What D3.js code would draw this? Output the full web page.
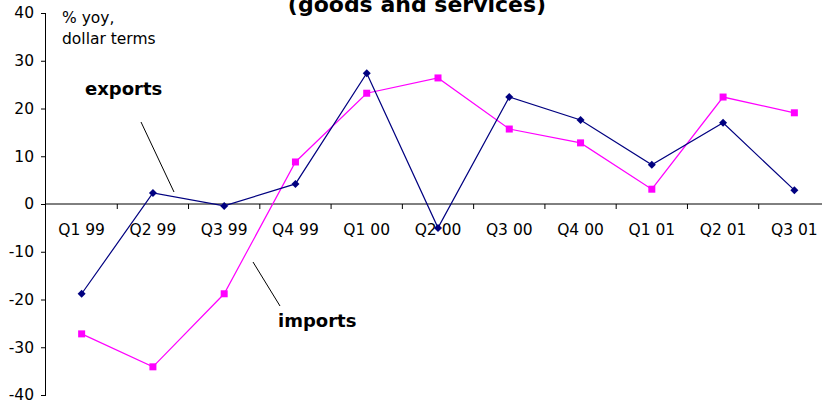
<!DOCTYPE html>
<html><head><meta charset="utf-8">
<script src="https://cdn.jsdelivr.net/npm/d3@7"></script>
<style>body{margin:0;background:#fff}svg{display:block}text{font-family:"DejaVu Sans",Verdana,sans-serif}</style>
</head><body>
<script>
const categories = ["Q1 99","Q2 99","Q3 99","Q4 99","Q1 00","Q2 00","Q3 00","Q4 00","Q1 01","Q2 01","Q3 01"];
const exportsData = [-18.8, 2.3, -0.4, 4.2, 27.4, -5.0, 22.4, 17.6, 8.2, 17.0, 2.9];
const importsData = [-27.2, -34.1, -18.8, 8.8, 23.2, 26.4, 15.7, 12.8, 3.1, 22.4, 19.1];
const yTicks = [40, 30, 20, 10, 0, -10, -20, -30, -40];

const W = 822, H = 403;
const svg = d3.select("body").append("svg").attr("width", W).attr("height", H);

const x = d3.scaleBand().domain(categories).range([46, 830]);
const y = d3.scaleLinear().domain([-40, 40]).range([395, 13]);

// y axis
const yAxis = svg.append("g").attr("transform", "translate(46,0)")
  .call(d3.axisLeft(y).tickValues(yTicks).tickSize(5).tickPadding(7).tickFormat(d => String(d)));
yAxis.selectAll("path,line").attr("stroke", "#000");
yAxis.selectAll("text").attr("font-size", 15.5).attr("fill", "#000");
yAxis.select(".domain").attr("d", `M-0.5,${y(40)}V${y(-40)}`);

// x axis at zero
const xAxis = svg.append("g").attr("transform", `translate(0,${y(0)})`);
xAxis.append("line").attr("x1", 46).attr("x2", 830).attr("y1", 0).attr("y2", 0).attr("stroke", "#000");
xAxis.selectAll("line.tk").data(categories.slice(1)).join("line").attr("class", "tk")
  .attr("x1", d => x(d)).attr("x2", d => x(d)).attr("y1", 0).attr("y2", 5).attr("stroke", "#000");
xAxis.selectAll("text").data(categories).join("text")
  .attr("x", d => x(d) + x.bandwidth() / 2).attr("y", 31)
  .attr("text-anchor", "middle").attr("font-size", 15.5).attr("fill", "#000").text(d => d);

const cx = (d, i) => x(categories[i]) + x.bandwidth() / 2;
const line = d3.line().x(cx).y(d => y(d));

svg.append("path").datum(importsData).attr("d", line).attr("fill", "none").attr("stroke", "#ff00ff").attr("stroke-width", 1.2);
svg.append("path").datum(exportsData).attr("d", line).attr("fill", "none").attr("stroke", "#000080").attr("stroke-width", 1.2);

svg.selectAll("rect.imp").data(importsData).join("rect").attr("class", "imp")
  .attr("x", (d, i) => cx(d, i) - 3.5).attr("y", d => y(d) - 3.5).attr("width", 7).attr("height", 7).attr("fill", "#ff00ff");
svg.selectAll("path.exp").data(exportsData).join("path").attr("class", "exp")
  .attr("d", (d, i) => { const px = cx(d, i), py = y(d); return `M${px},${py-4}L${px+4},${py}L${px},${py+4}L${px-4},${py}Z`; })
  .attr("fill", "#000080");

// title
svg.append("text").attr("x", 417).attr("y", 12).attr("text-anchor", "middle")
  .attr("font-size", 22).attr("font-weight", "bold").text("(goods and services)");

svg.append("text").attr("x", 62).attr("y", 23).attr("font-size", 15.5).text("% yoy,");
svg.append("text").attr("x", 62).attr("y", 44).attr("font-size", 15.5).text("dollar terms");

svg.append("text").attr("x", 85).attr("y", 95).attr("font-size", 18).attr("font-weight", "bold").text("exports");
svg.append("text").attr("x", 278).attr("y", 327).attr("font-size", 18).attr("font-weight", "bold").text("imports");

svg.append("line").attr("x1", 141).attr("y1", 122).attr("x2", 174).attr("y2", 192).attr("stroke", "#000");
svg.append("line").attr("x1", 253).attr("y1", 262).attr("x2", 280).attr("y2", 306).attr("stroke", "#000");
</script>
</body></html>
